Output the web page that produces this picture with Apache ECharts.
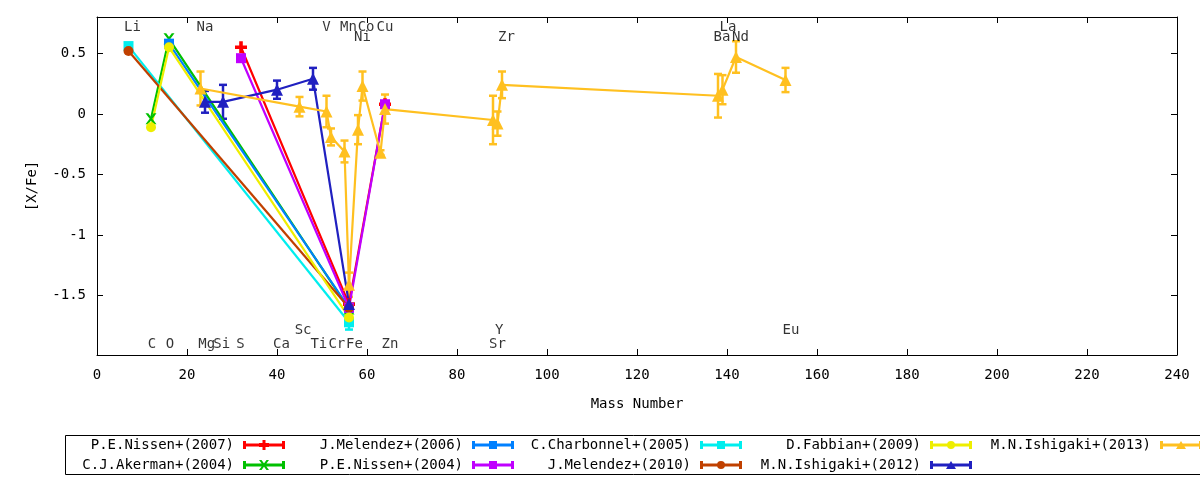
<!DOCTYPE html>
<html>
<head>
<meta charset="utf-8">
<title>[X/Fe] vs Mass Number</title>
<script src="https://cdn.jsdelivr.net/npm/echarts@6/dist/echarts.min.js"></script>
<style>
  html, body { margin: 0; padding: 0; background: #fff; }
  #chart { width: 1200px; height: 480px; }
</style>
</head>
<body>
<div id="chart"></div>
<script>
(function() {
  'use strict';

  // --- data: mass number (x), [X/Fe] (y), error (e) for each paper ---
  var nissen2007X = [32, 56, 64];
  var nissen2007Y = [0.55, -1.57, 0.08];
  var nissen2007E = [0, 0, 0];

  var akerman2004X = [12, 16, 56];
  var akerman2004Y = [-0.04, 0.62, -1.61];
  var akerman2004E = [0, 0, 0];

  var melendez2006X = [16, 56];
  var melendez2006Y = [0.58, -1.60];
  var melendez2006E = [0, 0];

  var nissen2004X = [32, 56, 64];
  var nissen2004Y = [0.46, -1.60, 0.08];
  var nissen2004E = [0, 0, 0];

  var charbonnel2005X = [7, 56];
  var charbonnel2005Y = [0.56, -1.72];
  var charbonnel2005E = [0, 0.06];

  var melendez2010X = [7, 56];
  var melendez2010Y = [0.52, -1.60];
  var melendez2010E = [0, 0];

  var fabbian2009X = [12, 16, 56];
  var fabbian2009Y = [-0.11, 0.55, -1.68];
  var fabbian2009E = [0, 0, 0];

  var ishigaki2012X = [24, 28, 40, 48, 56];
  var ishigaki2012Y = [0.10, 0.10, 0.20, 0.29, -1.57];
  var ishigaki2012E = [0.09, 0.14, 0.075, 0.09, 0];

  var ishigaki2013X = [23, 45, 51, 52, 55, 56, 58, 59, 63, 64, 88, 89, 90, 138, 139, 142, 153];
  var ishigaki2013Y = [0.21, 0.06, 0.02, -0.19, -0.31, -1.41, -0.13, 0.23, -0.32, 0.04,
                       -0.05, -0.08, 0.24, 0.15, 0.20, 0.47, 0.28];
  var ishigaki2013E = [0.14, 0.08, 0.13, 0.07, 0.09, 0.10, 0.12, 0.12, 0.02, 0.12,
                       0.20, 0.10, 0.11, 0.18, 0.12, 0.13, 0.10];

  // element name labels, four rows
  var labelRow1 = ['Li', 'Na', 'V', 'Mn', 'Co', 'Cu', 'La'];
  var labelRow1X = [7.9, 24, 51, 55.9, 59.8, 64, 140.2];
  var labelRow2 = ['Ni', 'Zr', 'Ba', 'Nd'];
  var labelRow2X = [59, 91, 138.9, 143];
  var labelRow3 = ['Sc', 'Y', 'Eu'];
  var labelRow3X = [45.8, 89.4, 154.2];
  var labelRow4 = ['C', 'O', 'Mg', 'Si', 'S', 'Ca', 'Ti', 'Cr', 'Fe', 'Zn', 'Sr'];
  var labelRow4X = [12.2, 16.2, 24.4, 27.7, 31.9, 41, 49.3, 53.3, 57.2, 65.1, 89];
  var labelRowY = [0.717, 0.634, -1.79, -1.905];

  var yTicks = [-1.5, -1, -0.5, 0, 0.5];

  var sets = [
    { name: 'P.E.Nissen+(2007)', color: '#ff0000', x: nissen2007X, y: nissen2007Y, e: nissen2007E, mark: 'plus' },
    { name: 'C.J.Akerman+(2004)', color: '#00c000', x: akerman2004X, y: akerman2004Y, e: akerman2004E, mark: 'cross' },
    { name: 'J.Melendez+(2006)', color: '#0080ff', x: melendez2006X, y: melendez2006Y, e: melendez2006E, mark: 'square' },
    { name: 'P.E.Nissen+(2004)', color: '#c000ff', x: nissen2004X, y: nissen2004Y, e: nissen2004E, mark: 'square' },
    { name: 'C.Charbonnel+(2005)', color: '#00eeee', x: charbonnel2005X, y: charbonnel2005Y, e: charbonnel2005E, mark: 'square' },
    { name: 'J.Melendez+(2010)', color: '#c04000', x: melendez2010X, y: melendez2010Y, e: melendez2010E, mark: 'circle' },
    { name: 'D.Fabbian+(2009)', color: '#eeee00', x: fabbian2009X, y: fabbian2009Y, e: fabbian2009E, mark: 'circle' },
    { name: 'M.N.Ishigaki+(2012)', color: '#2020c0', x: ishigaki2012X, y: ishigaki2012Y, e: ishigaki2012E, mark: 'triangle' },
    { name: 'M.N.Ishigaki+(2013)', color: '#ffc020', x: ishigaki2013X, y: ishigaki2013Y, e: ishigaki2013E, mark: 'triangle' }
  ];

  var symbols = {
    plus: ['path://M3.5,0H6.5V10H3.5Z M0,3.5H10V6.5H0Z', 12],
    cross: ['path://M0,0H2.5L10,10H7.5Z M7.5,0H10L2.5,10H0Z', 11],
    square: ['rect', 10],
    circle: ['circle', 10],
    triangle: ['triangle', 12]
  };

  // legend sample: line with error-bar caps and the marker in the middle
  var iconBase = 'M0,3.5H42V6.5H0Z M0,1H3V9H0Z M39,1H42V9H39Z ';
  var iconMarks = {
    plus: 'M19.5,0H22.5V10H19.5Z M16,3H26V7H16Z',
    cross: 'M16,0H18.5L26,10H23.5Z M23.5,0H26L18.5,10H16Z',
    square: 'M17,1H25V9H17Z',
    circle: 'M17,5A4,4 0 1 1 25,5A4,4 0 1 1 17,5Z',
    triangle: 'M21,1L26,9H16Z'
  };

  var font = 'DejaVu Sans Mono';
  var fontSize = 14;

  var series = [];
  sets.forEach(function(s) {
    var pts = s.x.map(function(x, i) { return [x, s.y[i], s.e[i]]; });
    series.push({
      name: s.name,
      type: 'line',
      data: pts,
      encode: { x: 0, y: 1 },
      symbol: symbols[s.mark][0],
      symbolSize: symbols[s.mark][1],
      showAllSymbol: true,
      color: s.color,
      lineStyle: { color: s.color, width: 2.2 },
      itemStyle: { color: s.color, borderWidth: 0 },
      emphasis: { disabled: true },
      silent: true
    });
    series.push({
      name: s.name,
      type: 'custom',
      data: pts,
      encode: { x: 0, y: 1 },
      silent: true,
      renderItem: function(params, api) {
        var e = api.value(2);
        if (!e) return null;
        var x = api.value(0), y = api.value(1);
        var hi = api.coord([x, y + e]);
        var lo = api.coord([x, y - e]);
        var w = 4;
        var st = { stroke: s.color, lineWidth: 2.5 };
        return {
          type: 'group',
          children: [
            { type: 'line', shape: { x1: hi[0], y1: hi[1], x2: lo[0], y2: lo[1] }, style: st },
            { type: 'line', shape: { x1: hi[0] - w, y1: hi[1], x2: hi[0] + w, y2: hi[1] }, style: st },
            { type: 'line', shape: { x1: lo[0] - w, y1: lo[1], x2: lo[0] + w, y2: lo[1] }, style: st }
          ]
        };
      }
    });
  });

  // element labels as invisible points
  var labelData = [];
  [[labelRow1, labelRow1X], [labelRow2, labelRow2X], [labelRow3, labelRow3X], [labelRow4, labelRow4X]]
    .forEach(function(row, r) {
      row[0].forEach(function(n, i) {
        labelData.push({ name: n, value: [row[1][i], labelRowY[r]] });
      });
    });
  series.push({
    name: 'elements',
    type: 'scatter',
    data: labelData,
    symbolSize: 1,
    itemStyle: { color: 'transparent' },
    silent: true,
    z: 5,
    label: {
      show: true,
      position: 'inside',
      formatter: '{b}',
      color: '#000',
      fontFamily: font,
      fontSize: fontSize
    }
  });

  // legend: five columns, two rows, text to the left of the sample
  var legendCols = [[0, 1], [2, 3], [4, 5], [6, 7], [8]];
  var legendRight = [915, 686, 458, 228, -2];
  var legends = legendCols.map(function(col, i) {
    return {
      orient: 'vertical',
      align: 'right',
      right: legendRight[i],
      top: 438,
      padding: 0,
      itemGap: 6,
      itemWidth: 42,
      itemHeight: 10,
      selectedMode: false,
      itemStyle: { borderWidth: 0 },
      textStyle: { fontFamily: font, fontSize: fontSize, color: '#000', padding: [0, 4, 0, 0] },
      data: col.map(function(k) {
        return { name: sets[k].name, icon: 'path://' + iconBase + iconMarks[sets[k].mark] };
      })
    };
  });

  var frameLine = { onZero: false, lineStyle: { color: '#000', width: 1 } };
  var inTick = { show: true, inside: true, length: 6, lineStyle: { color: '#000' } };

  var chart = echarts.init(document.getElementById('chart'));
  chart.setOption({
    backgroundColor: '#fff',
    animation: false,
    textStyle: { fontFamily: font },
    grid: { left: 97, right: 23, top: 17, bottom: 125 },
    legend: legends,
    xAxis: [
      {
        type: 'value',
        min: 0, max: 240, interval: 20,
        name: 'Mass Number',
        nameLocation: 'middle',
        nameGap: 42,
        nameTextStyle: { fontFamily: font, fontSize: fontSize, color: '#000' },
        axisLine: frameLine,
        axisTick: inTick,
        axisLabel: { fontFamily: font, fontSize: fontSize, color: '#000', margin: 13 },
        splitLine: { show: false }
      },
      {
        type: 'value',
        position: 'top',
        min: 0, max: 240, interval: 20,
        axisLine: frameLine,
        axisTick: inTick,
        axisLabel: { show: false },
        splitLine: { show: false }
      }
    ],
    yAxis: [
      {
        type: 'value',
        min: -1.99, max: 0.8,
        name: '[X/Fe]',
        nameLocation: 'middle',
        nameGap: 58,
        nameTextStyle: { fontFamily: font, fontSize: fontSize, color: '#000' },
        axisLine: { show: true, onZero: false, lineStyle: { color: '#000', width: 1 } },
        axisTick: { show: true, inside: true, length: 6, customValues: yTicks, lineStyle: { color: '#000' } },
        axisLabel: { customValues: yTicks, fontFamily: font, fontSize: fontSize, color: '#000', margin: 11 },
        splitLine: { show: false }
      },
      {
        type: 'value',
        position: 'right',
        min: -1.99, max: 0.8,
        axisLine: { show: true, onZero: false, lineStyle: { color: '#000', width: 1 } },
        axisTick: { show: true, inside: true, length: 6, customValues: yTicks, lineStyle: { color: '#000' } },
        axisLabel: { show: false },
        splitLine: { show: false }
      }
    ],
    graphic: [
      {
        type: 'rect',
        silent: true,
        shape: { x: 65.5, y: 435.5, width: 1200, height: 39 },
        style: { fill: 'none', stroke: '#000', lineWidth: 1 }
      }
    ],
    series: series
  });
})();
</script>
</body>
</html>
